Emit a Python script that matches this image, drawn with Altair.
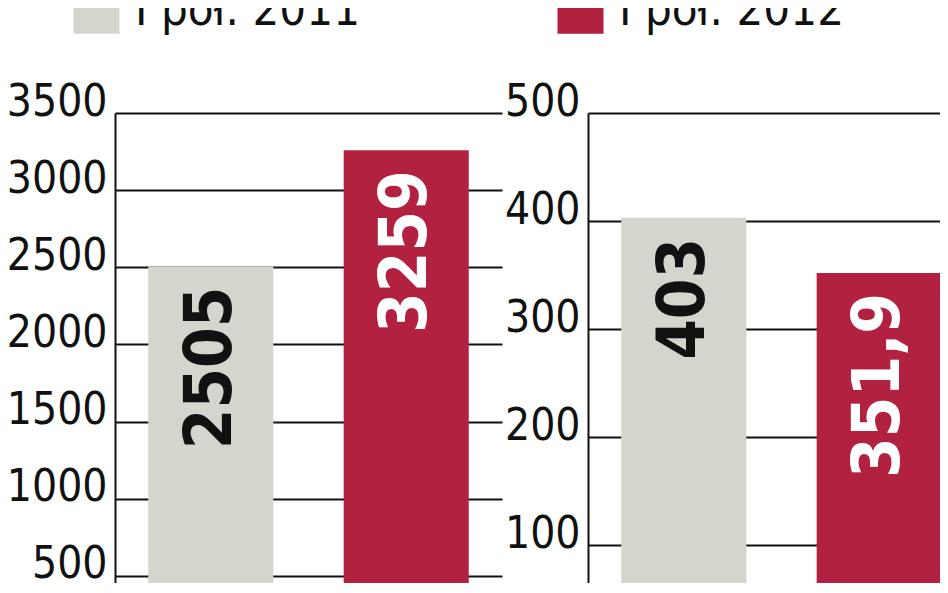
import altair as alt
import pandas as pd

# ---- data ----
categories = ["I poł. 2011", "I poł. 2012"]
left_values = [2505, 3259]
left_labels = ["2505", "3259"]
right_values = [403, 351.9]
right_labels = ["403", "351,9"]
left_ticks = [0, 500, 1000, 1500, 2000, 2500, 3000, 3500]
right_ticks = [0, 100, 200, 300, 400, 500]

bar_colors = ["#d5d5cd", "#b22240"]
FONT = "DejaVu Sans Condensed"

df_left = pd.DataFrame({"okres": categories, "wartosc": left_values, "etykieta": left_labels})
df_right = pd.DataFrame({"okres": categories, "wartosc": right_values, "etykieta": right_labels})

legend = alt.Legend(
    title=None,
    orient="none",
    legendX=-42,
    legendY=-126,
    direction="horizontal",
    symbolType="square",
    symbolSize=2116,
    symbolStrokeWidth=0,
    symbolOpacity=1,
    labelFont=FONT,
    labelFontSize=47,
    labelColor="#111111",
    labelLimit=0,
    labelOffset=15,
    columnPadding=196,
    padding=0,
)


def panel(df, domain_max, ticks):
    x = alt.X(
        "okres:N",
        sort=categories,
        axis=None,
        scale=alt.Scale(paddingInner=0.36, paddingOuter=0.17),
    )
    y = alt.Y(
        "wartosc:Q",
        scale=alt.Scale(domain=[0, domain_max], nice=False, zero=True),
        axis=alt.Axis(
            title=None,
            values=ticks,
            format="d",
            ticks=False,
            grid=True,
            gridColor="#111111",
            gridWidth=2,
            domain=True,
            domainColor="#111111",
            domainWidth=2,
            labelFont=FONT,
            labelFontSize=44,
            labelColor="#111111",
            labelPadding=8,
            labelBaseline="middle",
            labelOffset=-11,
            labelFlush=False,
            labelOverlap=False,
        ),
    )
    bars = alt.Chart(df).mark_bar().encode(
        x=x,
        y=y,
        color=alt.Color(
            "okres:N",
            scale=alt.Scale(domain=categories, range=bar_colors),
            legend=legend,
        ),
    )
    text = alt.Chart(df).mark_text(
        angle=270,
        align="right",
        baseline="middle",
        dx=-20,
        font=FONT,
        fontSize=65,
        fontWeight="bold",
    ).encode(
        x=x,
        y=alt.Y("wartosc:Q"),
        text="etykieta:N",
        color=alt.condition(
            alt.datum.okres == categories[0], alt.value("#111111"), alt.value("#ffffff")
        ),
    )
    return alt.layer(bars, text).properties(width=387, height=540)


left = panel(df_left, 3500, left_ticks)
right = panel(df_right, 500, right_ticks)

chart = alt.hconcat(left, right, spacing=86, bounds="flush").properties(
    autosize=alt.AutoSizeParams(type="none"),
    padding={"left": 107, "top": 105, "right": 0, "bottom": -70},
    background="white",
).configure_view(stroke=None)

chart.save(
    "out.html",
    embed_options={
        "renderer": "svg",
        "actions": False,
        "patch": [
            {"op": "add", "path": "/width", "value": 825},
        ],
    },
)
